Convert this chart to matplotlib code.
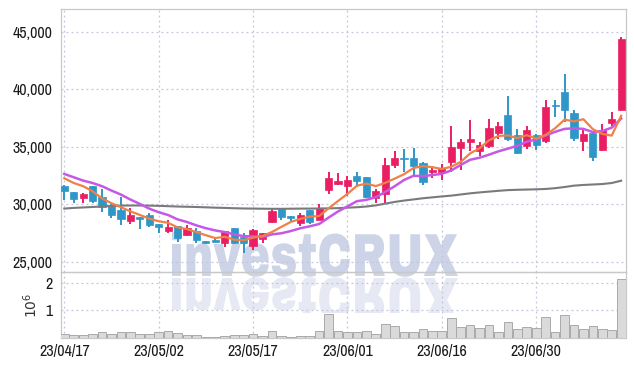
import matplotlib
matplotlib.use("Agg")
import matplotlib.pyplot as plt
import numpy as np
from matplotlib.textpath import TextPath
from matplotlib.patches import PathPatch, Rectangle
from matplotlib.font_manager import FontProperties
from matplotlib.transforms import Affine2D, IdentityTransform

plt.rcParams['font.family'] = ['Archivo Narrow', 'DejaVu Sans']

dates = ['23/04/17', '23/04/18', '23/04/19', '23/04/20', '23/04/21', '23/04/24', '23/04/25', '23/04/26', '23/04/27', '23/04/28',
         '23/05/02', '23/05/03', '23/05/04', '23/05/08', '23/05/09', '23/05/10', '23/05/11', '23/05/12', '23/05/15', '23/05/16',
         '23/05/17', '23/05/18', '23/05/19', '23/05/22', '23/05/23', '23/05/24', '23/05/25', '23/05/26', '23/05/30', '23/05/31',
         '23/06/01', '23/06/02', '23/06/05', '23/06/07', '23/06/08', '23/06/09', '23/06/12', '23/06/13', '23/06/14', '23/06/15',
         '23/06/16', '23/06/19', '23/06/20', '23/06/21', '23/06/22', '23/06/23', '23/06/26', '23/06/27', '23/06/28', '23/06/29',
         '23/06/30', '23/07/03', '23/07/04', '23/07/05', '23/07/06', '23/07/07', '23/07/10', '23/07/11', '23/07/12', '23/07/13']

opens = [31550, 31050, 30550, 31550, 30600, 29950, 29500, 28500, 28850, 29100,
         28250, 27650, 28100, 27350, 27650, 26800, 26900, 26650, 27950, 27150,
         26350, 26950, 28450, 29550, 28950, 28350, 29500, 28650, 31200, 31750,
         31550, 32500, 32350, 30500, 30900, 33400, 34050, 34000, 33600, 32800,
         32850, 33700, 34900, 35400, 34600, 35100, 36200, 37750, 36000, 35100,
         36050, 35550, 38600, 39750, 37950, 35500, 36250, 34750, 37050, 38250]
highs = [31650, 31100, 30950, 31600, 31350, 30000, 30600, 29650, 28900, 29200,
         28300, 28600, 28100, 28150, 27950, 26800, 26950, 27700, 27950, 27500,
         27800, 27500, 29700, 29550, 29000, 29250, 29500, 30050, 32800, 32700,
         32500, 32800, 32400, 31350, 34000, 34600, 34850, 34900, 33650, 33300,
         33500, 36800, 35700, 37300, 35400, 37400, 37150, 39400, 36550, 36800,
         36100, 39100, 39050, 41350, 38250, 36500, 36300, 36950, 38000, 44550]
lows = [30350, 30100, 30100, 30150, 29300, 28800, 28150, 28300, 27800, 28000,
        27500, 27500, 26700, 27200, 26650, 26500, 26700, 26300, 26500, 25750,
        26000, 26650, 28350, 28650, 28500, 28100, 28250, 28600, 30850, 31700,
        30700, 31500, 30550, 30100, 30050, 33150, 32850, 32550, 31650, 32250,
        32150, 32850, 33000, 34600, 34200, 34900, 35650, 35500, 34400, 34800,
        34700, 35350, 37600, 37200, 35500, 34600, 33750, 34600, 36800, 38200]
closes = [31150, 30450, 30850, 30250, 29800, 29100, 28700, 29050, 28700, 28150,
          28000, 28000, 27050, 27950, 26850, 26650, 26750, 27650, 26650, 26650,
          27750, 27450, 29400, 28900, 28800, 29050, 28450, 29650, 32250, 32000,
          32150, 32000, 30600, 31150, 33400, 34000, 33950, 33300, 31950, 32950,
          33200, 34950, 35400, 35650, 35200, 36650, 36850, 35650, 34450, 36500,
          35150, 38450, 38550, 38200, 35750, 36100, 34100, 36500, 37450, 44400]
ma_short = [32260, 31850, 31570, 31130, 30500, 30090, 29740, 29380, 29070, 28740,
            28520, 28380, 27980, 27830, 27570, 27300, 27050, 27170, 26910, 26870,
            27090, 27230, 27580, 28030, 28460, 28720, 28920, 28970, 29640, 30280,
            30900, 31610, 31800, 31580, 31860, 32230, 32620, 33160, 33320, 33230,
            33070, 33270, 33690, 34430, 34880, 35570, 35950, 36000, 35760, 36020,
            35720, 36040, 36620, 37370, 37220, 37410, 36540, 36130, 35980, 37710]
ma_mid = [32640, 32350, 32060, 31850, 31570, 31190, 30840, 30410, 30030, 29620,
          29305, 29060, 28680, 28450, 28155, 27910, 27715, 27575, 27370, 27220,
          27195, 27140, 27375, 27470, 27665, 27905, 28075, 28275, 28835, 29370,
          29810, 30265, 30385, 30610, 31070, 31565, 32115, 32480, 32450, 32545,
          32650, 32945, 33425, 33875, 34055, 34320, 34610, 34845, 35095, 35450,
          35645, 35995, 36310, 36565, 36620, 36565, 36290, 36375, 36675, 37465]
ma_long = [29620, 29680, 29720, 29760, 29800, 29850, 29880, 29890, 29890, 29880,
           29860, 29830, 29800, 29780, 29760, 29730, 29700, 29680, 29650, 29630,
           29620, 29610, 29600, 29600, 29610, 29620, 29620, 29630, 29640, 29660,
           29700, 29740, 29800, 29900, 30050, 30200, 30320, 30420, 30520, 30600,
           30680, 30750, 30850, 30950, 31030, 31100, 31170, 31230, 31260, 31280,
           31300, 31330, 31400, 31500, 31620, 31680, 31720, 31760, 31850, 32050]
volume_m = [0.16, 0.12, 0.12, 0.16, 0.20, 0.13, 0.20, 0.20, 0.16, 0.16,
            0.20, 0.24, 0.17, 0.12, 0.12, 0.05, 0.05, 0.08, 0.12, 0.12,
            0.16, 0.08, 0.26, 0.08, 0.05, 0.08, 0.08, 0.26, 0.88, 0.26,
            0.22, 0.20, 0.26, 0.16, 0.52, 0.45, 0.20, 0.23, 0.34, 0.27,
            0.27, 0.73, 0.41, 0.48, 0.37, 0.48, 0.23, 0.59, 0.34, 0.41,
            0.37, 0.77, 0.23, 0.84, 0.48, 0.34, 0.45, 0.34, 0.30, 2.14]
price_ticks = [25000, 30000, 35000, 40000, 45000]

UP = '#e91e63'
DOWN = '#2f97c8'
GRID = '#c3c6d9'
FRAME = '#c8c8c8'

fig = plt.figure(figsize=(6.34, 3.66), dpi=100)
fig.patch.set_facecolor('white')
ax = fig.add_axes([0.0962, 0.257, 0.891, 0.718])
axv = fig.add_axes([0.0962, 0.0765, 0.891, 0.1805], sharex=ax)
for a in (ax, axv):
    a.set_facecolor('none')
    for s in a.spines.values():
        s.set_color(FRAME)
        s.set_linewidth(0.9)
    a.tick_params(length=0, colors='#1a1a1a', labelsize=11.5)
    a.grid(True, color=GRID, linestyle=(0, (1.5, 2.5)), linewidth=0.9)
    a.set_axisbelow(True)

x = np.arange(len(dates))
o = np.array(opens); c = np.array(closes)
h = np.array(highs); l = np.array(lows)
cols = [UP if cc >= oo else DOWN for oo, cc in zip(o, c)]
body_lo = np.minimum(o, c)
body_h = np.maximum(np.abs(c - o), 90)
ax.vlines(x, l, h, colors=cols, linewidth=1.4, zorder=2)
ax.bar(x, body_h, bottom=body_lo, width=0.76, color=cols, edgecolor=cols, linewidth=0.5, zorder=3)

ax.plot(x, ma_long, color='#7a7a7a', linewidth=1.5, zorder=4)
ax.plot(x, ma_mid, color='#c658e6', linewidth=1.8, zorder=4)
ax.plot(x, ma_short, color='#ef8147', linewidth=1.6, zorder=5)

ax.set_ylim(24100, 47000)
ax.set_xlim(-0.35, 59.5)
ax.set_yticks(price_ticks)
ax.set_yticklabels([f'{v:,}' for v in price_ticks], fontweight='semibold')
ax.tick_params(axis='y', pad=6)
ax.tick_params(axis='x', labelbottom=False)
ax.set_xticks(x[::10])

axv.bar(x, np.array(volume_m) * 1e6, width=0.92, color='#dadada', edgecolor='#a9a9a9', linewidth=0.7, zorder=3)
axv.set_ylim(0, 2.4e6)
axv.set_yticks([1e6, 2e6])
axv.set_yticklabels(['1', '2'], fontweight='semibold')
axv.tick_params(axis='y', pad=6)
axv.set_xticks(x[::10])
axv.set_xticklabels([dates[i] for i in x[::10]], fontweight='semibold')
axv.tick_params(axis='x', pad=4)
axv.set_ylabel(r'$10^6$', fontsize=10, color='#333333', labelpad=4)

# watermark with reflection (pixel coordinates)
fp = FontProperties(family=['Archivo Black', 'DejaVu Sans'], weight='bold')
tp = TextPath((0, 0), 'investCRUX', size=62, prop=fp)
ext = tp.get_extents()
sx = 286 / ext.width
sy = 44 / (ext.y1 - 0) if ext.y1 > 0 else 1.0
wm = PathPatch(tp, transform=Affine2D().scale(sx, sy).translate(172 - ext.x0 * sx, 90) + IdentityTransform(),
               facecolor='#cdd4e8', edgecolor='none', zorder=-1)
fig.patches.append(wm)
refl = PathPatch(tp, transform=Affine2D().scale(sx, -sy).translate(172 - ext.x0 * sx, 88) + IdentityTransform(),
                 facecolor='#e6e9f3', edgecolor='none', zorder=-1)
clip = Rectangle((0, 53), 634, 36, transform=IdentityTransform())
refl.set_clip_path(clip)
fig.patches.append(refl)

fig.savefig('out.png', dpi=100)
